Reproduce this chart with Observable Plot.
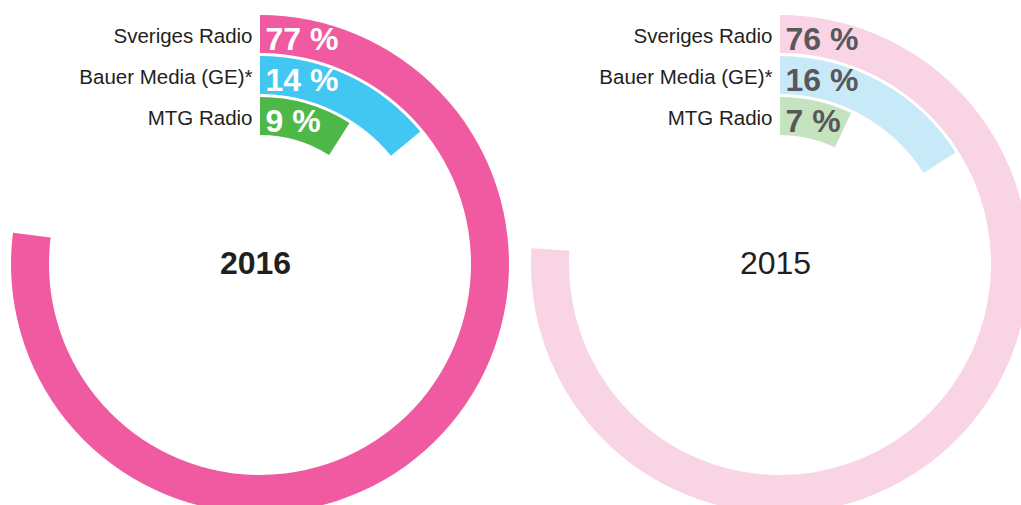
<!DOCTYPE html>
<html>
<head>
<meta charset="utf-8">
<script src="https://cdn.jsdelivr.net/npm/d3@7"></script>
<script src="https://cdn.jsdelivr.net/npm/@observablehq/plot@0.6"></script>
<style>
  html, body { margin: 0; padding: 0; background: #fff; overflow: hidden; }
  #chart { display: flex; width: 1021px; height: 505px; overflow: hidden; }
  #chart svg { flex: none; }
</style>
</head>
<body>
<div id="chart"></div>
<script>
// ---- data ----
const years = ["2016", "2015"];
const stations = ["Sveriges Radio", "Bauer Media (GE)*", "MTG Radio"];
const share2016 = [77, 14, 9];
const share2015 = [76, 16, 7];

// ---- styles ----
const palette2016 = ["#ef5aa0", "#42c7f2", "#4db748"];
const palette2015 = ["#f9d4e5", "#c7e9f8", "#c6e3bf"];
const W = 520, H = 505, CY = 264, OUTER = 250;
const FONT = "'Liberation Sans', Arial, Helvetica, sans-serif";

function ring(year, shares, palette, pctColor, yearWeight) {
  const data = stations.map((name, i) => ({name, value: shares[i], key: year + "|" + name}));
  return Plot.plot({
    width: W,
    height: H,
    margin: 0,
    style: {fontFamily: FONT, background: "#fff", color: "#231f20"},
    x: {domain: [0, 100], range: [0, 2 * Math.PI], axis: null},
    y: {domain: stations, range: [CY - OUTER, CY - OUTER + 121], paddingInner: 0.08, paddingOuter: 0, axis: null},
    color: {domain: data.map(d => d.key), range: palette},
    marks: [
      Plot.barX(data, {
        x: "value",
        y: "name",
        fill: "key",
        render(index, scales, values, dimensions) {
          const bw = scales.y.bandwidth();
          const cx = dimensions.width / 2;
          const arc = d3.arc();
          const g = d3.create("svg:g");
          for (const i of index) {
            const outer = CY - values.y[i];
            const inner = outer - bw;
            g.append("path")
              .attr("transform", `translate(${cx},${CY})`)
              .attr("fill", values.fill[i])
              .attr("d", arc({innerRadius: inner, outerRadius: outer, startAngle: values.x1[i], endAngle: values.x2[i]}));
          }
          return g.node();
        }
      }),
      Plot.text(data, {
        y: "name", text: "name", frameAnchor: "middle",
        textAnchor: "end", dx: -8, dy: 1.5, fontSize: 20.5, fill: "#231f20"
      }),
      Plot.text(data, {
        y: "name", text: d => d.value + " %", frameAnchor: "middle",
        textAnchor: "start", dx: 5, dy: 5, fontSize: 32, fontWeight: "bold", fill: pctColor
      }),
      Plot.text([year], {
        text: d => d, frameAnchor: "middle", dx: -5, dy: 11,
        fontSize: 32, fontWeight: yearWeight, fill: "#231f20"
      })
    ]
  });
}

const el = document.getElementById("chart");
el.append(ring(years[0], share2016, palette2016, "#ffffff", "bold"));
el.append(ring(years[1], share2015, palette2015, "#58585a", "normal"));
</script>
</body>
</html>
